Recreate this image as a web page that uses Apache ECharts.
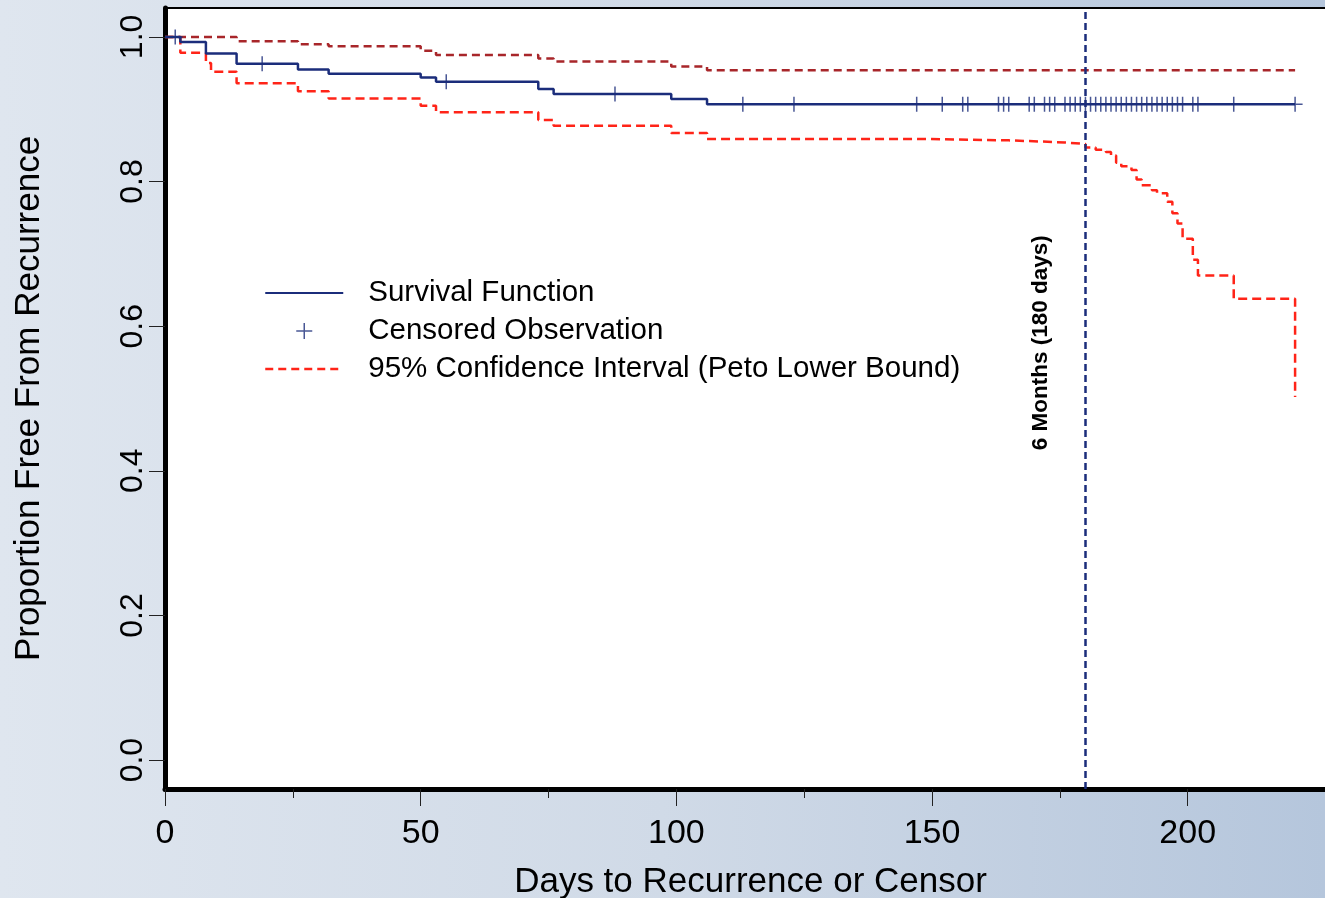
<!DOCTYPE html>
<html><head><meta charset="utf-8">
<script src="https://cdn.jsdelivr.net/npm/echarts@6/dist/echarts.min.js"></script>
<style>
html,body{margin:0;padding:0;width:1325px;height:898px;overflow:hidden;
background:linear-gradient(90deg,#dfe6ef 0%,#d0dae7 50%,#b5c6dc 100%);}
#c{width:1325px;height:898px;}
</style></head><body><div id="c"></div>
<script>
// ---- data ----
const survDays  = [0, 3, 8, 14, 26, 32, 50, 53, 73, 76, 99, 106, 221];
const survVals  = [1.0, 0.993, 0.977, 0.963, 0.955, 0.949, 0.944, 0.938, 0.928, 0.921, 0.914, 0.907, 0.907];

const upperDays = [0, 14, 26, 32, 50, 53, 73, 76, 99, 106, 221];
const upperVals = [1.0, 0.994, 0.990, 0.987, 0.981, 0.975, 0.970, 0.966, 0.959, 0.954, 0.954];

const lowerDays = [0, 3, 8, 9, 14, 26, 32, 50, 53, 73, 76, 99, 106, 147, 165, 169, 176, 180, 182, 184, 185, 186, 187, 189, 190, 191, 193, 194, 196, 197, 198, 199, 201, 202, 209, 221];
const lowerVals = [1.0, 0.978, 0.964, 0.952, 0.936, 0.925, 0.915, 0.905, 0.896, 0.885, 0.877, 0.867, 0.859, 0.857, 0.856, 0.854, 0.852, 0.847, 0.844, 0.841, 0.836, 0.826, 0.821, 0.816, 0.803, 0.795, 0.788, 0.784, 0.772, 0.756, 0.742, 0.721, 0.692, 0.670, 0.638, 0.502];

const censorDays = [2, 19, 55, 88, 113, 123, 147, 152, 156, 157, 163, 164, 165, 169, 170, 172, 173, 174,
  176, 177, 178, 179, 180, 181, 182, 183, 184, 185, 186, 187, 188, 189, 190, 191, 192, 193, 194, 195, 196, 197, 198, 199,
  201, 202, 209, 221];

const xTicks = [0, 50, 100, 150, 200];
const xMinorTicks = [25, 75, 125, 175];
const yTicks = [0, 0.2, 0.4, 0.6, 0.8, 1.0];
const refDay = 180;
const refLabel = '6 Months (180 days)';
const refLabelY = 0.577;

const NAME_SURV = 'Survival Function';
const NAME_CENS = 'Censored Observation';
const NAME_CI = '95% Confidence Interval (Peto Lower Bound)';

// ---- helpers ----
const pairs = (d, v) => d.map((x, i) => [x, v[i]]);
function survAt(t) { let s = survVals[0]; for (let i = 0; i < survDays.length; i++) if (survDays[i] <= t) s = survVals[i]; return s; }

const NAVY = '#1b2d7b', RED = '#ff2418', DARKRED = '#a8262a';
const FONT = '"Liberation Sans", Arial, sans-serif';
const PLUS = 'path://M7,0L7,14M0,7L14,7';

const chart = echarts.init(document.getElementById('c'), null, { renderer: 'canvas' });
chart.setOption({
  backgroundColor: 'transparent',
  animation: false,
  textStyle: { fontFamily: FONT, color: '#000' },
  grid: { left: 165, top: 8, width: 1171, height: 781, show: true, backgroundColor: '#ffffff',
    borderColor: '#000', borderWidth: 2, containLabel: false, outerBoundsMode: 'none' },
  legend: {
    orient: 'vertical', left: 259, top: 273, itemWidth: 78, itemHeight: 16, itemGap: 8,
    selectedMode: false,
    textStyle: { fontFamily: FONT, fontSize: 29.5, color: '#000', padding: [0, 0, 0, 20] },
    data: [
      { name: NAME_SURV, itemStyle: { opacity: 0 } },
      { name: NAME_CENS, icon: PLUS, itemStyle: { color: 'rgba(0,0,0,0)', borderColor: NAVY, borderWidth: 1.5 } },
      { name: NAME_CI, itemStyle: { opacity: 0 }, lineStyle: { color: RED, type: [8, 5], width: 2.5 } }
    ]
  },
  xAxis: [{
    type: 'value', min: 0, max: 229, gridIndex: 0, position: 'bottom',
    axisLine: { show: true, onZero: false, lineStyle: { color: '#000', width: 5 } },
    axisTick: { show: true, customValues: xTicks, length: 17, lineStyle: { color: '#222', width: 1 } },
    axisLabel: { customValues: xTicks, fontSize: 34, color: '#000', margin: 28, fontFamily: FONT },
    splitLine: { show: false },
    name: 'Days to Recurrence or Censor', nameLocation: 'middle', nameGap: 76,
    nameTextStyle: { fontSize: 35, color: '#000', fontFamily: FONT }
  }, {
    type: 'value', min: 0, max: 229, gridIndex: 0, position: 'bottom',
    axisLine: { show: false, onZero: false },
    axisTick: { show: true, customValues: xMinorTicks, length: 9, lineStyle: { color: '#222', width: 1 } },
    axisLabel: { show: false }, splitLine: { show: false }
  }],
  yAxis: {
    type: 'value', min: -0.04, max: 1.04,
    axisLine: { show: true, onZero: false, lineStyle: { color: '#000', width: 5 } },
    axisTick: { show: true, customValues: yTicks, length: 16, lineStyle: { color: '#222', width: 1 } },
    axisLabel: { customValues: yTicks, rotate: 90, fontSize: 32, color: '#000', margin: 16, fontFamily: FONT,
      formatter: v => v.toFixed(1) },
    splitLine: { show: false },
    name: 'Proportion Free From Recurrence', nameLocation: 'middle', nameGap: 118,
    nameTextStyle: { fontSize: 35, color: '#000', fontFamily: FONT }
  },
  series: [
    { name: NAME_CI, type: 'line', step: 'end', symbol: 'none', data: pairs(lowerDays, lowerVals),
      lineStyle: { color: RED, width: 2.5, type: [9, 5] }, itemStyle: { color: RED }, z: 2, silent: true },
    { name: NAME_CI, type: 'line', step: 'end', symbol: 'none', data: pairs(upperDays, upperVals),
      lineStyle: { color: DARKRED, width: 2.5, type: [8, 5] }, itemStyle: { color: DARKRED }, z: 2, silent: true },
    { name: NAME_SURV, type: 'line', step: 'end', symbol: 'none', data: pairs(survDays, survVals),
      lineStyle: { color: NAVY, width: 2.5 }, itemStyle: { color: NAVY }, z: 3, silent: true },
    { name: NAME_CENS, type: 'scatter', symbol: PLUS, symbolSize: 15, symbolKeepAspect: true,
      data: censorDays.map(d => [d, survAt(d)]),
      itemStyle: { color: 'rgba(0,0,0,0)', borderColor: NAVY, borderWidth: 1.5 }, z: 4, silent: true },
    { name: 'ref', type: 'line', data: [], silent: true,
      markLine: { silent: true, symbol: ['none', 'none'], data: [{ xAxis: refDay }],
        lineStyle: { color: NAVY, width: 2.5, type: [7, 4] }, label: { show: false } },
      markPoint: { silent: true, symbol: 'circle', symbolSize: 0,
        data: [{ coord: [refDay, refLabelY] }],
        label: { show: true, formatter: refLabel, rotate: 90, offset: [0, -45], position: 'inside',
          fontSize: 22.5, fontWeight: 'bold', color: '#000', fontFamily: FONT } } }
  ]
});
</script></body></html>
